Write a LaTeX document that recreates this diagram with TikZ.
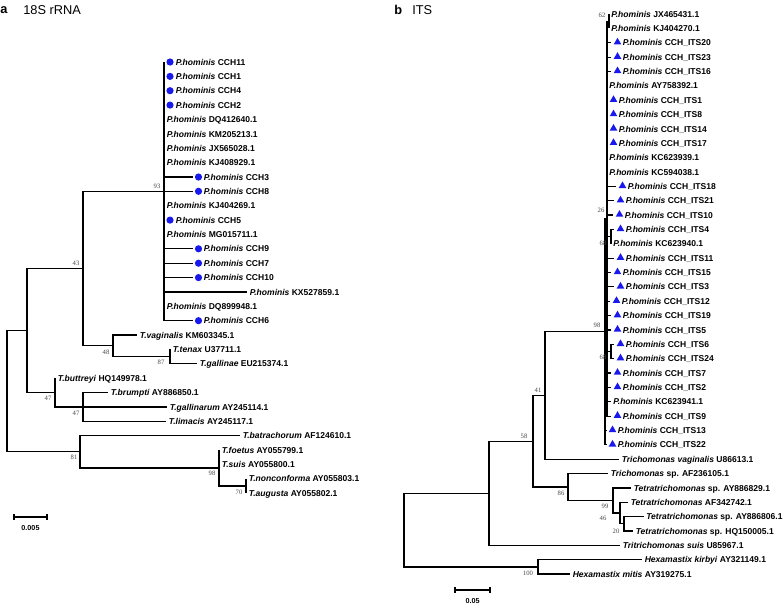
\documentclass[tikz,border=0pt]{standalone}
\usepackage{fontspec}
\setmainfont{Liberation Sans}
\newfontfamily\bootfont{Liberation Serif}
\usepackage{tikz}
\usetikzlibrary{shapes.geometric}

\definecolor{markblue}{RGB}{25,25,235}
\definecolor{bootgray}{RGB}{70,70,70}
\newcommand{\Ph}{\textit{P.hominis}}

\begin{document}
\begin{tikzpicture}[x=0.75pt,y=0.75pt,yscale=-1,xscale=1,
  branch/.style={line width=0.9pt},
  taxon/.style={anchor=west,inner sep=0pt,text height=4.7pt,text depth=0pt,font=\fontsize{6.4}{7}\selectfont\bfseries},
  boot/.style={inner sep=0pt,text=bootgray,font=\bootfont\fontsize{5}{5}\selectfont},
  hdot/.style={circle,fill=markblue,inner sep=0pt,minimum size=5.4pt},
  htri/.style={regular polygon,regular polygon sides=3,fill=markblue,inner sep=0pt,minimum size=6.6pt},
  heading/.style={anchor=west,inner sep=0pt,font=\fontsize{9.6}{11}\selectfont},
  scalelab/.style={inner sep=0pt,font=\fontsize{5.4}{6}\selectfont\bfseries}]

\useasboundingbox (0,0) rectangle (784,604);

%%%%%%%%%%%%%%%% panel a : 18S rRNA
\node[heading,font=\fontsize{9.6}{11}\selectfont\bfseries] (hdA) at (0,10) {a};
\node[heading] (ttlA) at (23,10) {18S rRNA};

% Leaves
\coordinate (a00) at (164,62.0);  \node[hdot] (d00) at (170,62.0) {};  \node[taxon] (t00) at (175.5,62.0) {\Ph{} CCH11};
\coordinate (a01) at (164,76.4);  \node[hdot] (d01) at (170,76.4) {};  \node[taxon] (t01) at (175.5,76.4) {\Ph{} CCH1};
\coordinate (a02) at (164,90.7);  \node[hdot] (d02) at (170,90.7) {};  \node[taxon] (t02) at (175.5,90.7) {\Ph{} CCH4};
\coordinate (a03) at (164,105.1); \node[hdot] (d03) at (170,105.1) {}; \node[taxon] (t03) at (175.5,105.1) {\Ph{} CCH2};
\coordinate (a04) at (164,119.5); \node[taxon] (t04) at (166.5,119.5) {\Ph{} DQ412640.1};
\coordinate (a05) at (164,133.9); \node[taxon] (t05) at (166.5,133.9) {\Ph{} KM205213.1};
\coordinate (a06) at (164,148.2); \node[taxon] (t06) at (166.5,148.2) {\Ph{} JX565028.1};
\coordinate (a07) at (164,162.6); \node[taxon] (t07) at (166.5,162.6) {\Ph{} KJ408929.1};
\coordinate (a08) at (193,177.0); \node[hdot] (d08) at (198.5,177.0) {}; \node[taxon] (t08) at (203.5,177.0) {\Ph{} CCH3};
\coordinate (a09) at (193,191.3); \node[hdot] (d09) at (198.5,191.3) {}; \node[taxon] (t09) at (203.5,191.3) {\Ph{} CCH8};
\coordinate (a10) at (164,205.7); \node[taxon] (t10) at (166.5,205.7) {\Ph{} KJ404269.1};
\coordinate (a11) at (164,220.1); \node[hdot] (d11) at (170,220.1) {}; \node[taxon] (t11) at (175.5,220.1) {\Ph{} CCH5};
\coordinate (a12) at (164,234.4); \node[taxon] (t12) at (166.5,234.4) {\Ph{} MG015711.1};
\coordinate (a13) at (193,248.8); \node[hdot] (d13) at (198.5,248.8) {}; \node[taxon] (t13) at (203.5,248.8) {\Ph{} CCH9};
\coordinate (a14) at (193,263.2); \node[hdot] (d14) at (198.5,263.2) {}; \node[taxon] (t14) at (203.5,263.2) {\Ph{} CCH7};
\coordinate (a15) at (193,277.6); \node[hdot] (d15) at (198.5,277.6) {}; \node[taxon] (t15) at (203.5,277.6) {\Ph{} CCH10};
\coordinate (a16) at (247,291.9); \node[taxon] (t16) at (249.5,291.9) {\Ph{} KX527859.1};
\coordinate (a17) at (164,306.3); \node[taxon] (t17) at (166.5,306.3) {\Ph{} DQ899948.1};
\coordinate (a18) at (193,320.7); \node[hdot] (d18) at (198.5,320.7) {}; \node[taxon] (t18) at (203.5,320.7) {\Ph{} CCH6};
\coordinate (a19) at (137,335.0); \node[taxon] (t19) at (139.5,335.0) {\textit{T.vaginalis} KM603345.1};
\coordinate (a20) at (170,349.4); \node[taxon] (t20) at (172.5,349.4) {\textit{T.tenax} U37711.1};
\coordinate (a21) at (197,363.8); \node[taxon] (t21) at (199.5,363.8) {\textit{T.gallinae} EU215374.1};
\coordinate (a22) at (55,378.1);  \node[taxon] (t22) at (57.5,378.1) {\textit{T.buttreyi} HQ149978.1};
\coordinate (a23) at (108,392.5); \node[taxon] (t23) at (110.5,392.5) {\textit{T.brumpti} AY886850.1};
\coordinate (a24) at (167,406.9); \node[taxon] (t24) at (169.5,406.9) {\textit{T.gallinarum} AY245114.1};
\coordinate (a25) at (166,421.3); \node[taxon] (t25) at (168.5,421.3) {\textit{T.limacis} AY245117.1};
\coordinate (a26) at (240,435.6); \node[taxon] (t26) at (242.5,435.6) {\textit{T.batrachorum} AF124610.1};
\coordinate (a27) at (219,450.0); \node[taxon] (t27) at (221.5,450.0) {\textit{T.foetus} AY055799.1};
\coordinate (a28) at (219,464.4); \node[taxon] (t28) at (221.5,464.4) {\textit{T.suis} AY055800.1};
\coordinate (a29) at (246,478.7); \node[taxon] (t29) at (248.5,478.7) {\textit{T.nonconforma} AY055803.1};
\coordinate (a30) at (246,493.1); \node[taxon] (t30) at (248.5,493.1) {\textit{T.augusta} AY055802.1};

% Inner nodes
\coordinate (n93) at (164,191.3);
\coordinate (n87) at (170,356.6);
\coordinate (n48) at (113,345.8);
\coordinate (n43) at (83,268.6);
\coordinate (n47b) at (83,406.9);
\coordinate (n47a) at (55,392.5);
\coordinate (nA) at (27,330.5);
\coordinate (n70) at (246,485.9);
\coordinate (n98) at (219,468.0);
\coordinate (n81) at (80,451.8);
\coordinate (rootA) at (7,391.2);

% Branches
\foreach \i in {00,01,02,03,04,05,06,07,08,09,10,11,12,13,14,15,16,17,18}
  \draw[branch] (n93) |- (a\i);
\draw[branch] (n87) |- (a20);  \draw[branch] (n87) |- (a21);
\draw[branch] (n48) |- (a19);  \draw[branch] (n48) |- (n87);
\draw[branch] (n43) |- (n93);  \draw[branch] (n43) |- (n48);
\draw[branch] (n47b) |- (a23); \draw[branch] (n47b) |- (a24); \draw[branch] (n47b) |- (a25);
\draw[branch] (n47a) |- (a22); \draw[branch] (n47a) |- (n47b);
\draw[branch] (nA) |- (n43);   \draw[branch] (nA) |- (n47a);
\draw[branch] (n70) |- (a29);  \draw[branch] (n70) |- (a30);
\draw[branch] (n98) |- (a27);  \draw[branch] (n98) |- (a28); \draw[branch] (n98) |- (n70);
\draw[branch] (n81) |- (a26);  \draw[branch] (n81) |- (n98);
\draw[branch] (rootA) |- (nA); \draw[branch] (rootA) |- (n81);

% Bootstrap values
\node[boot] (bs93) at (157,186) {93};
\node[boot] (bs43) at (76,263) {43};
\node[boot] (bs48) at (106,352) {48};
\node[boot] (bs87) at (161,362) {87};
\node[boot] (bs47a) at (48,398) {47};
\node[boot] (bs47b) at (76,413) {47};
\node[boot] (bs81) at (74,457) {81};
\node[boot] (bs98) at (212,473) {98};
\node[boot] (bs70) at (239,492) {70};

% Scale bar
\coordinate (sa1) at (14,517); \coordinate (sa2) at (47,517);
\draw[branch] (sa1) -- (sa2);
\draw[branch] ([yshift=2.2pt]sa1) -- ([yshift=-2.2pt]sa1);
\draw[branch] ([yshift=2.2pt]sa2) -- ([yshift=-2.2pt]sa2);
\node[scalelab] (sclA) at (30.5,528) {0.005};

%%%%%%%%%%%%%%%% panel b : ITS
\node[heading,font=\fontsize{9.6}{11}\selectfont\bfseries] (hdB) at (394,10) {b};
\node[heading] (ttlB) at (412,10) {ITS};

% Leaves
\coordinate (b00) at (609,14.0);  \node[taxon] (u00) at (611,14.0) {\Ph{} JX465431.1};
\coordinate (b01) at (609,28.4);  \node[taxon] (u01) at (611,28.4) {\Ph{} KJ404270.1};
\coordinate (b02) at (611,42.7);  \node[htri] (g02) at (617.5,42.2) {};  \node[taxon] (u02) at (622.5,42.7) {\Ph{} CCH\_ITS20};
\coordinate (b03) at (611,57.1);  \node[htri] (g03) at (617.5,56.6) {};  \node[taxon] (u03) at (622.5,57.1) {\Ph{} CCH\_ITS23};
\coordinate (b04) at (611,71.4);  \node[htri] (g04) at (617.5,70.9) {};  \node[taxon] (u04) at (622.5,71.4) {\Ph{} CCH\_ITS16};
\coordinate (b05) at (607,85.8);  \node[taxon] (u05) at (609,85.8) {\Ph{} AY758392.1};
\coordinate (b06) at (607,100.2); \node[htri] (g06) at (613.5,99.7) {};  \node[taxon] (u06) at (618.5,100.2) {\Ph{} CCH\_ITS1};
\coordinate (b07) at (607,114.5); \node[htri] (g07) at (613.5,114.0) {}; \node[taxon] (u07) at (618.5,114.5) {\Ph{} CCH\_ITS8};
\coordinate (b08) at (607,128.9); \node[htri] (g08) at (613.5,128.4) {}; \node[taxon] (u08) at (618.5,128.9) {\Ph{} CCH\_ITS14};
\coordinate (b09) at (607,143.2); \node[htri] (g09) at (613.5,142.7) {}; \node[taxon] (u09) at (618.5,143.2) {\Ph{} CCH\_ITS17};
\coordinate (b10) at (607,157.6); \node[taxon] (u10) at (609,157.6) {\Ph{} KC623939.1};
\coordinate (b11) at (607,172.0); \node[taxon] (u11) at (609,172.0) {\Ph{} KC594038.1};
\coordinate (b12) at (616,186.3); \node[htri] (g12) at (622.5,185.8) {}; \node[taxon] (u12) at (627.5,186.3) {\Ph{} CCH\_ITS18};
\coordinate (b13) at (614,200.7); \node[htri] (g13) at (620.5,200.2) {}; \node[taxon] (u13) at (625.5,200.7) {\Ph{} CCH\_ITS21};
\coordinate (b14) at (613,215.0); \node[htri] (g14) at (619.5,214.5) {}; \node[taxon] (u14) at (624.5,215.0) {\Ph{} CCH\_ITS10};
\coordinate (b15) at (614,229.4); \node[htri] (g15) at (620.5,228.9) {}; \node[taxon] (u15) at (625.5,229.4) {\Ph{} CCH\_ITS4};
\coordinate (b16) at (611,243.8); \node[taxon] (u16) at (613,243.8) {\Ph{} KC623940.1};
\coordinate (b17) at (614,258.1); \node[htri] (g17) at (620.5,257.6) {}; \node[taxon] (u17) at (625.5,258.1) {\Ph{} CCH\_ITS11};
\coordinate (b18) at (611,272.5); \node[htri] (g18) at (617.5,272.0) {}; \node[taxon] (u18) at (622.5,272.5) {\Ph{} CCH\_ITS15};
\coordinate (b19) at (614,286.8); \node[htri] (g19) at (620.5,286.3) {}; \node[taxon] (u19) at (625.5,286.8) {\Ph{} CCH\_ITS3};
\coordinate (b20) at (610,301.2); \node[htri] (g20) at (616.5,300.7) {}; \node[taxon] (u20) at (621.5,301.2) {\Ph{} CCH\_ITS12};
\coordinate (b21) at (611,315.6); \node[htri] (g21) at (617.5,315.1) {}; \node[taxon] (u21) at (622.5,315.6) {\Ph{} CCH\_ITS19};
\coordinate (b22) at (611,329.9); \node[htri] (g22) at (617.5,329.4) {}; \node[taxon] (u22) at (622.5,329.9) {\Ph{} CCH\_ITS5};
\coordinate (b23) at (614,344.3); \node[htri] (g23) at (620.5,343.8) {}; \node[taxon] (u23) at (625.5,344.3) {\Ph{} CCH\_ITS6};
\coordinate (b24) at (614,358.6); \node[htri] (g24) at (620.5,358.1) {}; \node[taxon] (u24) at (625.5,358.6) {\Ph{} CCH\_ITS24};
\coordinate (b25) at (611,373.0); \node[htri] (g25) at (617.5,372.5) {}; \node[taxon] (u25) at (622.5,373.0) {\Ph{} CCH\_ITS7};
\coordinate (b26) at (611,387.4); \node[htri] (g26) at (617.5,386.9) {}; \node[taxon] (u26) at (622.5,387.4) {\Ph{} CCH\_ITS2};
\coordinate (b27) at (611,401.7); \node[taxon] (u27) at (613,401.7) {\Ph{} KC623941.1};
\coordinate (b28) at (611,416.1); \node[htri] (g28) at (617.5,415.6) {}; \node[taxon] (u28) at (622.5,416.1) {\Ph{} CCH\_ITS9};
\coordinate (b29) at (607,430.4); \node[htri] (g29) at (612.5,429.9) {}; \node[taxon] (u29) at (617.5,430.4) {\Ph{} CCH\_ITS13};
\coordinate (b30) at (607,444.8); \node[htri] (g30) at (612.5,444.3) {}; \node[taxon] (u30) at (617.5,444.8) {\Ph{} CCH\_ITS22};
\coordinate (b31) at (619,459.2); \node[taxon] (u31) at (621.5,459.2) {\textit{Trichomonas vaginalis} U86613.1};
\coordinate (b32) at (608,473.5); \node[taxon] (u32) at (610.5,473.5) {\textit{Trichomonas} sp. AF236105.1};
\coordinate (b33) at (631,487.9); \node[taxon] (u33) at (633.5,487.9) {\textit{Tetratrichomonas} sp. AY886829.1};
\coordinate (b34) at (628,502.2); \node[taxon] (u34) at (630.5,502.2) {\textit{Tetratrichomonas} AF342742.1};
\coordinate (b35) at (644,516.6); \node[taxon] (u35) at (646,516.6) {\textit{Tetratrichomonas} sp. AY886806.1};
\coordinate (b36) at (633,531.0); \node[taxon] (u36) at (635.5,531.0) {\textit{Tetratrichomonas} sp. HQ150005.1};
\coordinate (b37) at (620,545.3); \node[taxon] (u37) at (622.5,545.3) {\textit{Tritrichomonas suis} U85967.1};
\coordinate (b38) at (642,559.7); \node[taxon] (u38) at (644.5,559.7) {\textit{Hexamastix kirbyi} AY321149.1};
\coordinate (b39) at (570,574.0); \node[taxon] (u39) at (572.5,574.0) {\textit{Hexamastix mitis} AY319275.1};

% Inner nodes
\coordinate (m62) at (609,21.2);
\coordinate (m68a) at (611,236.6);
\coordinate (m68b) at (611,351.5);
\coordinate (m26) at (607,218.6);
\coordinate (m98) at (605,331.7);
\coordinate (m41) at (545,395.4);
\coordinate (m20) at (624,523.8);
\coordinate (m46) at (620,513.0);
\coordinate (m99) at (613,500.4);
\coordinate (m86) at (568,487.0);
\coordinate (m58) at (533,441.2);
\coordinate (mB) at (489,493.3);
\coordinate (m100) at (538,566.9);
\coordinate (rootB) at (404,530.1);

% Branches
\draw[branch] (m62) |- (b00);  \draw[branch] (m62) |- (b01);
\draw[branch] (m68a) |- (b15); \draw[branch] (m68a) |- (b16);
\draw[branch] (m68b) |- (b23); \draw[branch] (m68b) |- (b24);
\foreach \i in {02,03,04,05,06,07,08,09,10,11,12,13,14,17,18,19,20,21,22,25,26,27,28}
  \draw[branch] (m26) |- (b\i);
\draw[branch] (m26) |- (m62);  \draw[branch] (m26) |- (m68a); \draw[branch] (m26) |- (m68b);
\draw[branch] (m98) |- (m26);  \draw[branch] (m98) |- (b29);  \draw[branch] (m98) |- (b30);
\draw[branch] (m41) |- (m98);  \draw[branch] (m41) |- (b31);
\draw[branch] (m20) |- (b35);  \draw[branch] (m20) |- (b36);
\draw[branch] (m46) |- (b34);  \draw[branch] (m46) |- (m20);
\draw[branch] (m99) |- (b33);  \draw[branch] (m99) |- (m46);
\draw[branch] (m86) |- (b32);  \draw[branch] (m86) |- (m99);
\draw[branch] (m58) |- (m41);  \draw[branch] (m58) |- (m86);
\draw[branch] (mB) |- (m58);   \draw[branch] (mB) |- (b37);
\draw[branch] (m100) |- (b38); \draw[branch] (m100) |- (b39);
\draw[branch] (rootB) |- (mB); \draw[branch] (rootB) |- (m100);

% Bootstrap values
\node[boot] (bs62) at (602,15) {62};
\node[boot] (bs26) at (601,210) {26};
\node[boot] (bs68a) at (603,243) {68};
\node[boot] (bs98b) at (597,325) {98};
\node[boot] (bs68b) at (603,357) {68};
\node[boot] (bs41) at (538,390) {41};
\node[boot] (bs58) at (524,436) {58};
\node[boot] (bs86) at (561,493) {86};
\node[boot] (bs99) at (605,506) {99};
\node[boot] (bs46) at (603,518) {46};
\node[boot] (bs20) at (616,531) {20};
\node[boot] (bs100) at (528,573) {100};

% Scale bar
\coordinate (sb1) at (455,590); \coordinate (sb2) at (490,590);
\draw[branch] (sb1) -- (sb2);
\draw[branch] ([yshift=2.2pt]sb1) -- ([yshift=-2.2pt]sb1);
\draw[branch] ([yshift=2.2pt]sb2) -- ([yshift=-2.2pt]sb2);
\node[scalelab] (sclB) at (472.5,601) {0.05};

\end{tikzpicture}
\end{document}
